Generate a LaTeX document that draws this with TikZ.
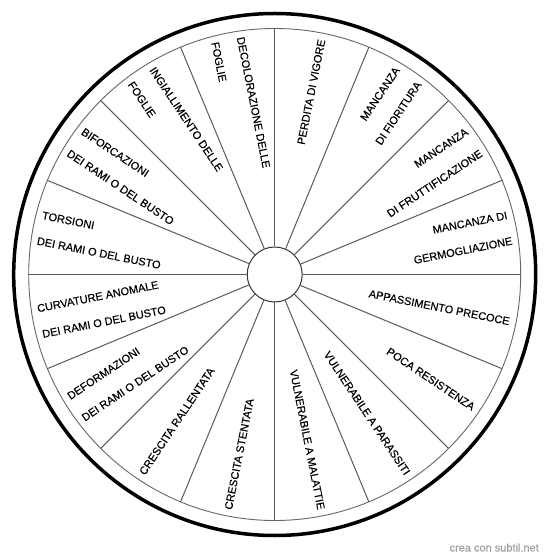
\documentclass[tikz,border=0pt]{standalone}
\usepackage{fontspec}
\setmainfont{Liberation Sans}[FakeBold=0.3]
\newcommand\rone[3]{\node[rlbl, rotate=#2] (#1) at (#2:239.5) {#3};}
\newcommand\rtwo[4]{%
  \node[rlbl, rotate=#2] (#1a) at ([shift={(#2+90:13)}]#2:239.5) {#3};
  \node[rlbl, rotate=#2] (#1b) at ([shift={(#2-90:13)}]#2:239.5) {#4};}
\newcommand\lone[4]{\node[llbl, rotate=#3] (#1) at (#2:239.5) {#4};}
\newcommand\ltwo[5]{%
  \node[llbl, rotate=#3] (#1a) at ([shift={(#2-90:13)}]#2:239.5) {#4};
  \node[llbl, rotate=#3] (#1b) at ([shift={(#2+90:13)}]#2:239.5) {#5};}
\begin{document}
\begin{tikzpicture}[x=1pt,y=1pt,
  rim/.style={draw=black, line width=3.5pt},
  ring/.style={draw=black!60, line width=0.9pt},
  spoke/.style={draw=black!65, line width=1pt},
  hubstyle/.style={circle, draw=black!80, line width=1pt, minimum size=55pt, inner sep=0pt},
  lbl/.style={font=\fontsize{11}{13}\selectfont, inner sep=0pt, outer sep=0pt, text=black, text height=8pt, text depth=0pt},
  rlbl/.style={lbl, anchor=east},
  llbl/.style={lbl, anchor=west},
  wmark/.style={font=\fontsize{11}{13}\selectfont, text=black!38, inner sep=0pt, anchor=base east}]
\useasboundingbox (-274.7,-284.5) rectangle (275.3,274.5);
\draw[rim] (0,0) circle (261);
\draw[ring] (0,0) circle (246);
\node[hubstyle] (hub) at (0,0) {};
\foreach \i in {0,...,15}{
  \pgfmathsetmacro{\a}{22.5*\i}
  \coordinate (o\i) at (\a:246);
  \draw[spoke] (hub.\a) -- (o\i);
}
% right side
\rone{l1}{78.75}{PERDITA DI VIGORE}
\rtwo{l2}{56.25}{MANCANZA}{DI FIORITURA}
\rtwo{l3}{33.75}{MANCANZA}{DI FRUTTIFICAZIONE}
\rtwo{l4}{11.25}{MANCANZA DI}{GERMOGLIAZIONE}
\rone{l5}{-11.25}{APPASSIMENTO PRECOCE}
\rone{l6}{-33.75}{POCA RESISTENZA}
\rone{l7}{-56.25}{VULNERABILE A PARASSITI}
\rone{l8}{-78.75}{VULNERABILE A MALATTIE}
% left side
\lone{l9}{258.75}{78.75}{CRESCITA STENTATA}
\lone{l10}{236.25}{56.25}{CRESCITA RALLENTATA}
\ltwo{l11}{213.75}{33.75}{DEFORMAZIONI}{DEI RAMI O DEL BUSTO}
\ltwo{l12}{191.25}{11.25}{CURVATURE ANOMALE}{DEI RAMI O DEL BUSTO}
\ltwo{l13}{168.75}{-11.25}{TORSIONI}{DEI RAMI O DEL BUSTO}
\ltwo{l14}{146.25}{-33.75}{BIFORCAZIONI}{DEI RAMI O DEL BUSTO}
\ltwo{l15}{123.75}{-56.25}{INGIALLIMENTO DELLE}{FOGLIE}
\ltwo{l16}{101.25}{-78.75}{DECOLORAZIONE DELLE}{FOGLIE}
\node[wmark] (wm) at (264.3,-277) {crea con subtil.net};
\end{tikzpicture}
\end{document}
